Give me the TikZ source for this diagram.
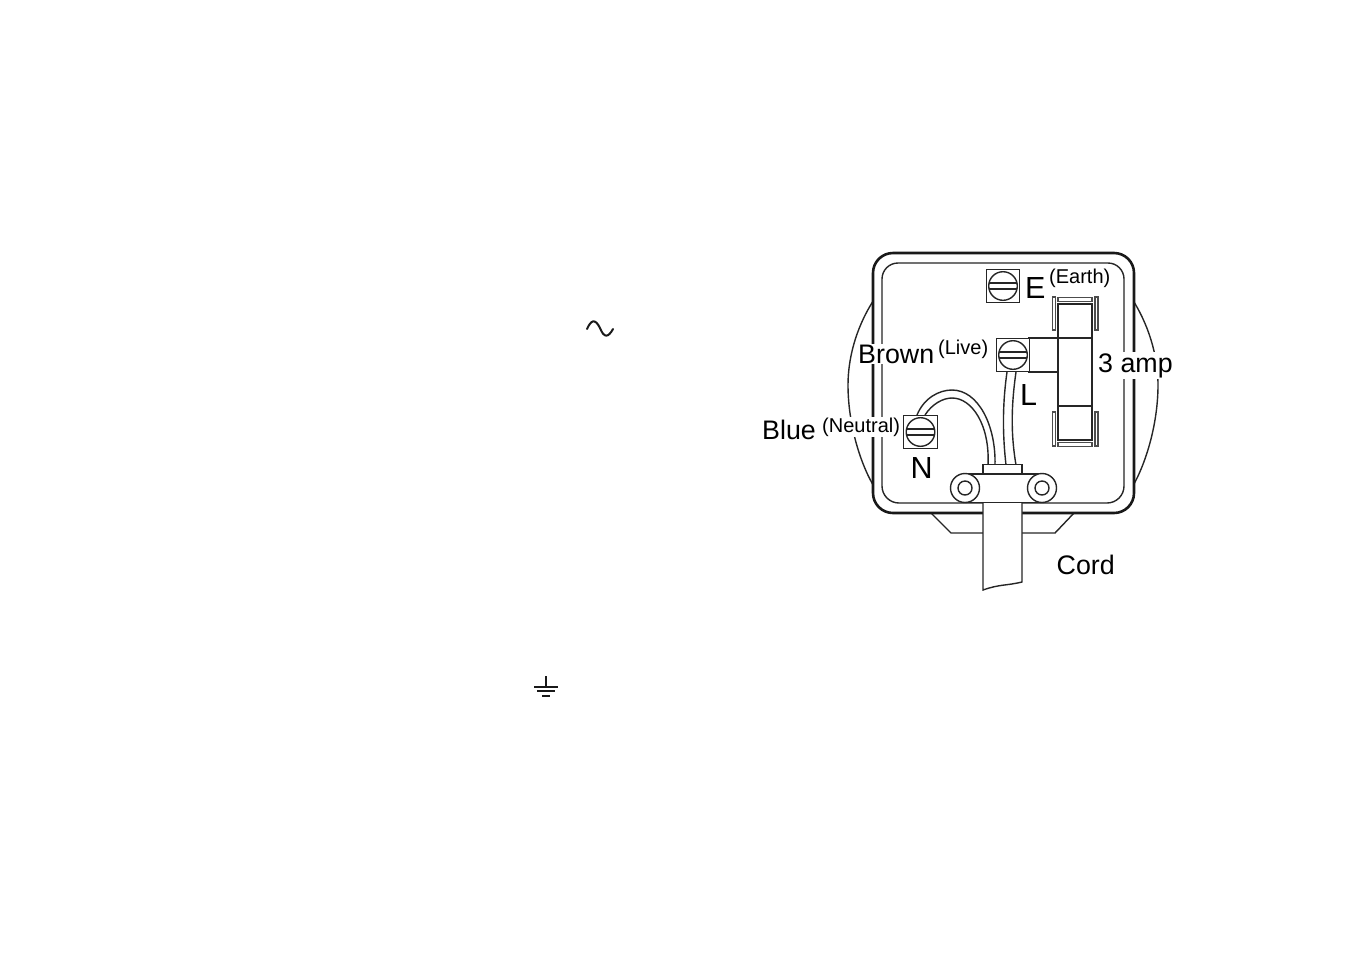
\documentclass[tikz,border=0pt]{standalone}
\usepackage{fontspec}
\setmainfont{Liberation Sans}
\tikzset{
  thinl/.style={draw=black!85,line width=1.4pt},
  thick outer/.style={draw=black!90,line width=2.6pt},
  screwbox/.style={draw=black!85,line width=1.4pt,fill=white,minimum size=33.5pt,inner sep=0pt,shape=rectangle},
  lab/.style={fill=white,inner sep=1pt,text=black,anchor=base west},
  big/.style={font=\fontsize{26.8}{30}\selectfont},
  small/.style={font=\fontsize{20}{24}\selectfont},
  letter/.style={font=\fontsize{30.5}{34}\selectfont,text=black,anchor=base west,inner sep=0pt},
}
\newcommand{\screw}[3]{%
  \node[screwbox] (#1) at (#2,#3) {};
  \draw[thinl] (#2,#3) circle (14.3);
  \draw[thinl] (#2-14,#3-3) -- (#2+14,#3-3) (#2-14,#3+3) -- (#2+14,#3+3);
}
\begin{document}
\begin{tikzpicture}[x=1pt,y=-1pt]
\useasboundingbox (0,0) rectangle (1354,954);
% pins behind body
\draw[thinl] (872.5,302) .. controls (855,330) and (848,360) .. (848,385) .. controls (848,420) and (858,458) .. (872.5,484);
\draw[thinl] (1134,302) .. controls (1151,330) and (1158,360) .. (1158,385) .. controls (1158,420) and (1148,458) .. (1134,484);
% bottom trapezoid
\draw[thinl] (931,513) -- (951,533) -- (1055,533) -- (1074,513);
% body
\draw[thick outer,fill=white] (873,273) arc (180:270:20) -- (1114,253) arc (270:360:20) -- (1134,493) arc (0:90:20) -- (893,513) arc (90:180:20) -- cycle;
\draw[thinl] (882,279) arc (180:270:16) -- (1108,263) arc (270:360:16) -- (1124,486) arc (0:90:17) -- (899,503) arc (90:180:17) -- cycle;
% fuse
\draw[thinl] (1058,304) rectangle (1092,440);
\draw[thinl] (1058,338) -- (1092,338) (1058,406) -- (1092,406);
\draw[thinl,draw=black!70] (1058,297.5) rectangle (1092,301.5);
\draw[thinl,draw=black!70] (1058,442.5) rectangle (1092,446.5);
\draw[thinl,draw=black!70] (1052.5,297) rectangle (1055.5,330);
\draw[thinl,draw=black!70] (1095,297) rectangle (1098,330);
\draw[thinl,draw=black!70] (1052.5,412) rectangle (1055.5,446);
\draw[thinl,draw=black!70] (1095,412) rectangle (1098,446);
\draw[thinl] (1029,338) rectangle (1058,372);
% labels with white halo
\node[lab,big] (brown) at (857,363) {Brown};
\node[lab,small] (live) at (937,354) {(Live)};
\node[lab,big] (blue) at (761,439) {Blue};
\node[lab,small] (neutral) at (821,432) {(Neutral)};
\node[lab,big] (amp) at (1097,372) {3 amp};
\node[letter] (e) at (1025,298) {E};
\node[lab,small,fill=none] (earth) at (1048,283) {(Earth)};
\node[letter] (l) at (1020,405) {L};
\node[letter] (n) at (910.5,478) {N};
\node[lab,big,fill=none] (cord) at (1055.5,574) {Cord};
% screws
\screw{se}{1003}{286}
\screw{sl}{1013}{355}
\screw{sn}{920.5}{432}
% wires
\coordinate (bw1) at (917,415);
\coordinate (bw2) at (925,415);
\coordinate (bw3) at (988,465);
\coordinate (bw4) at (995,465);
\coordinate (lw1) at (1007,372);
\coordinate (lw2) at (1016,372);
\coordinate (lw3) at (1006,465);
\coordinate (lw4) at (1016,465);
\draw[thinl] (bw1) .. controls (924,398) and (939,390) .. (952,390) .. controls (978,390) and (996,425) .. (bw4);
\draw[thinl] (bw2) .. controls (932,404) and (943,398) .. (952,398) .. controls (972,398) and (990,425) .. (bw3);
\draw[thinl] (lw1) .. controls (1003,400) and (1002,430) .. (lw3);
\draw[thinl] (lw2) .. controls (1012,400) and (1010,430) .. (lw4);
% cord clamp
\node[draw=black!85,line width=1.4pt,fill=white,minimum width=39pt,minimum height=9.5pt,inner sep=0pt] (clamptop) at (1002.5,469.5) {};
\draw[thinl,fill=white] (983,502) -- (1022,502) -- (1022,582) .. controls (1005,586) and (1000,584) .. (983,590) -- cycle;
\fill[white] (965,474) rectangle (1042,502);
\draw[thinl] (965,474) -- (1042,474) (965,502.5) -- (1042,502.5);
\node[circle,draw=black!85,line width=1.4pt,fill=white,minimum size=29pt,inner sep=0pt] (cl) at (965,488) {};
\node[circle,draw=black!85,line width=1.4pt,fill=white,minimum size=29pt,inner sep=0pt] (cr) at (1042,488) {};
\node[circle,draw=black!85,line width=1.4pt,minimum size=14pt,inner sep=0pt] (cli) at (965,488) {};
\node[circle,draw=black!85,line width=1.4pt,minimum size=14pt,inner sep=0pt] (cri) at (1042,488) {};
% stray symbols
\draw[line width=2pt,black!90,line cap=round] (587,329) .. controls (591,320) and (595,318) .. (600,328) .. controls (604,338) and (608,338) .. (613,329);
\draw[line width=1.6pt,black!90] (546,676) -- (546,686);
\draw[line width=2pt,black!90] (534,686.5) -- (558,686.5) (537,691) -- (555,691) (542,695.5) -- (550,695.5);
\end{tikzpicture}
\end{document}
